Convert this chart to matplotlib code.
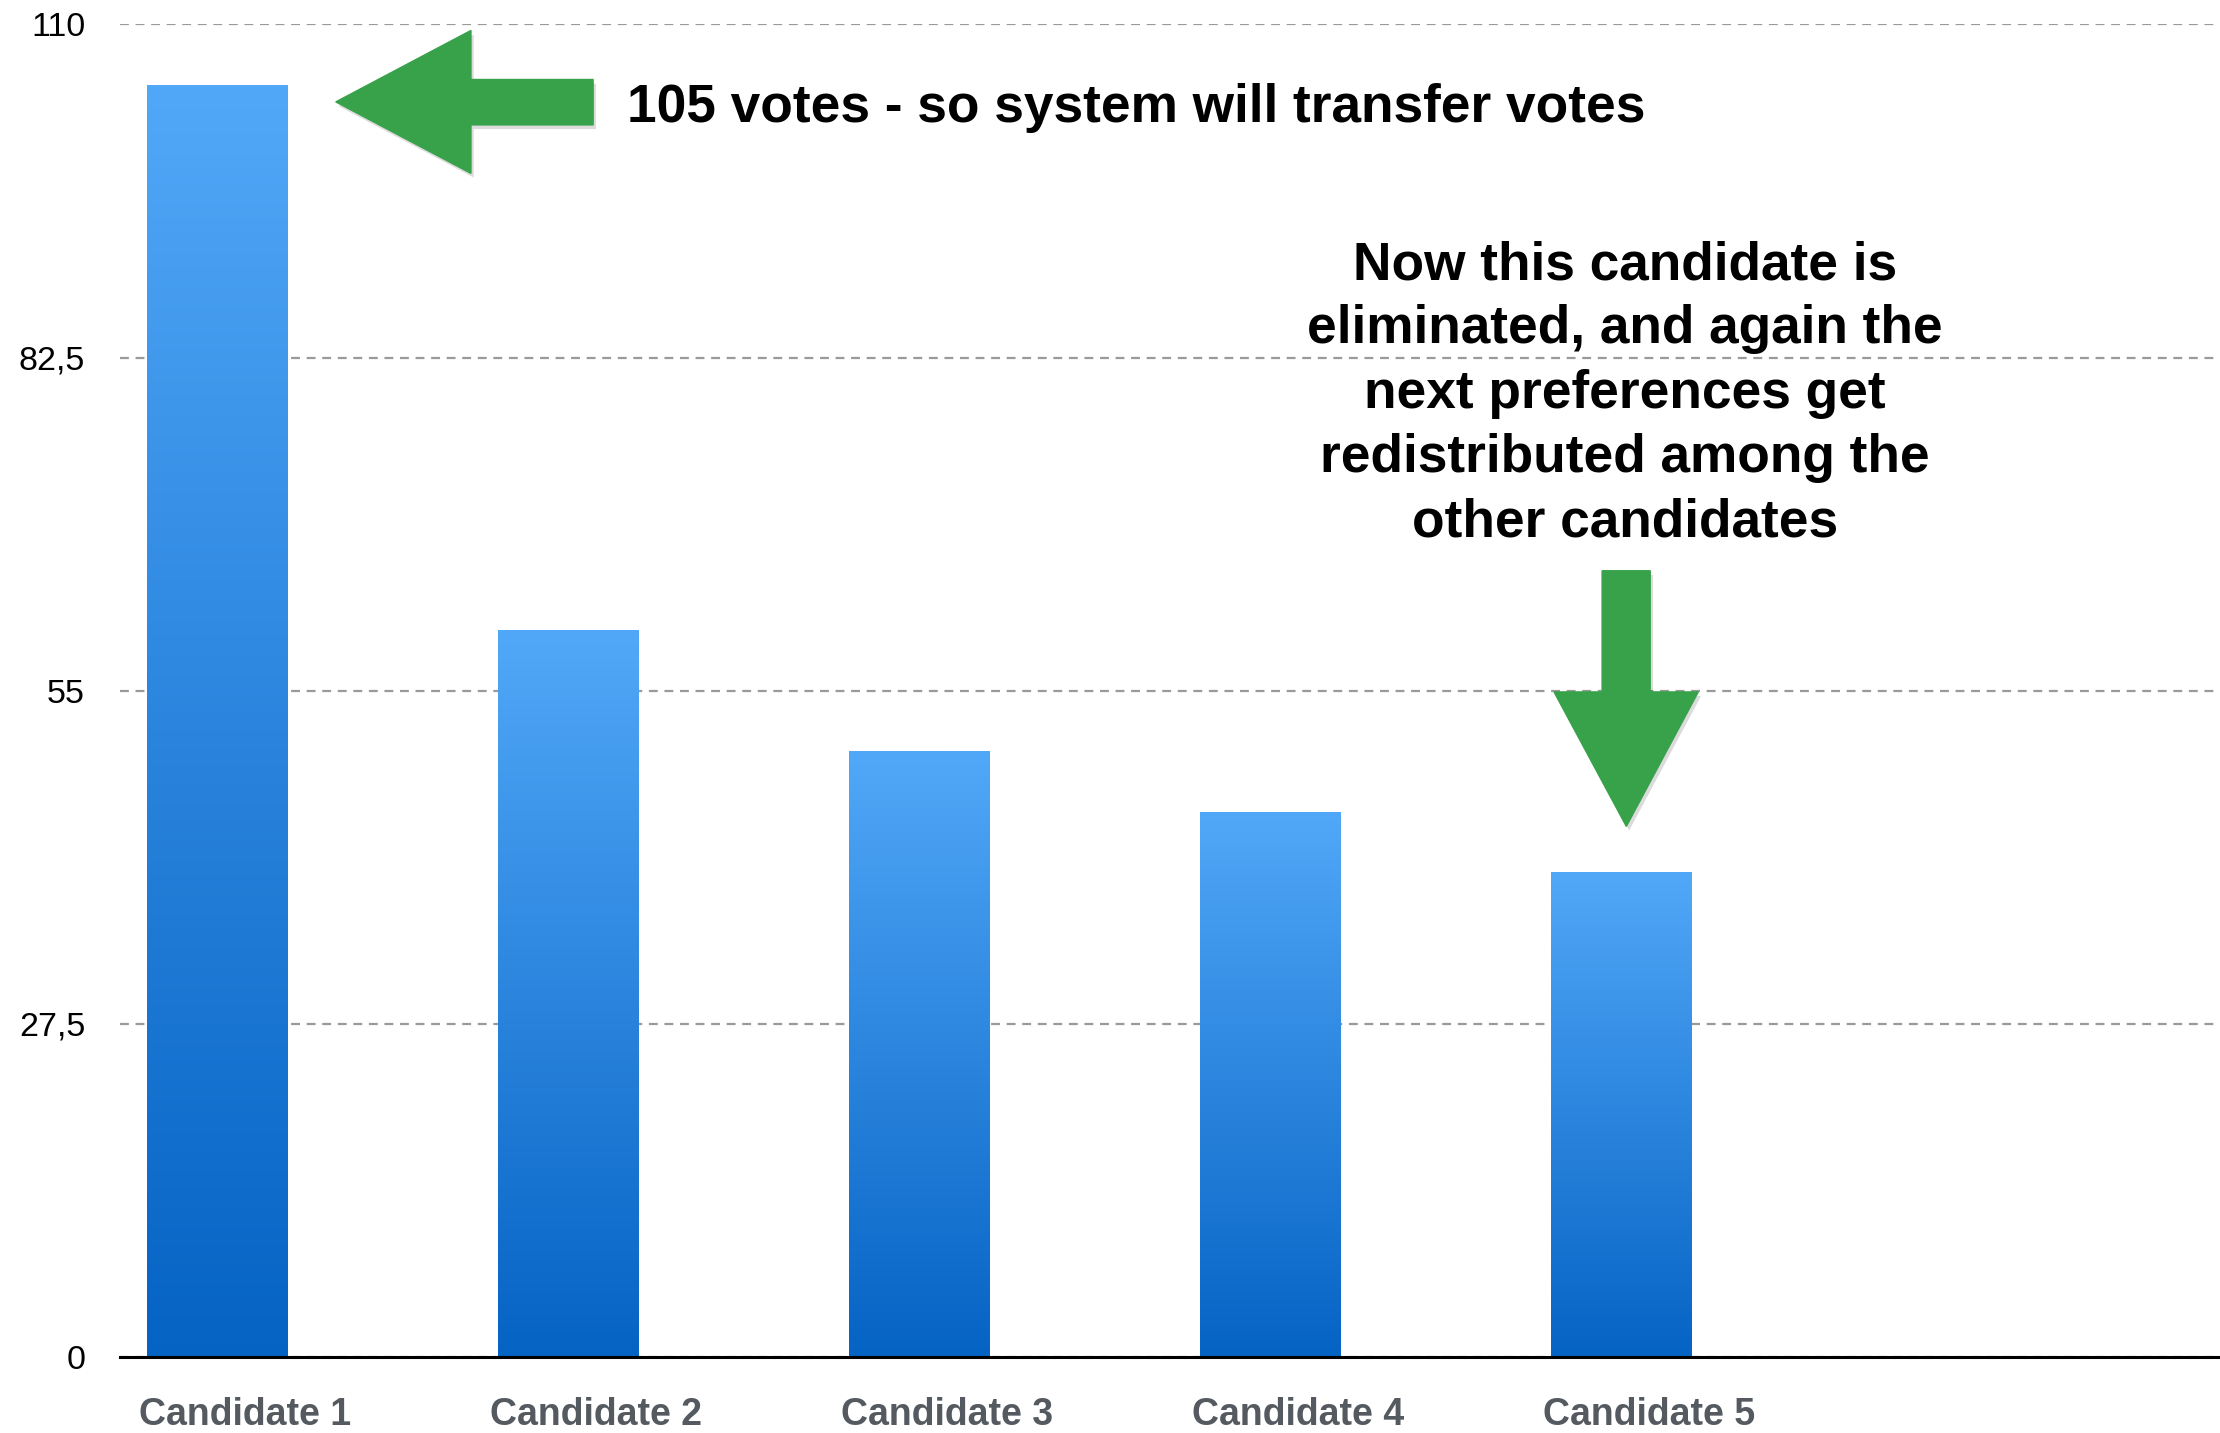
import numpy as np
import matplotlib
matplotlib.use("Agg")
import matplotlib.pyplot as plt
import matplotlib.patheffects as pe
from matplotlib.colors import LinearSegmentedColormap
from matplotlib.patches import Polygon

plt.rcParams['font.family'] = ['Liberation Sans', 'DejaVu Sans']

# data
candidates = ['Candidate 1', 'Candidate 2', 'Candidate 3', 'Candidate 4', 'Candidate 5']
votes = [105, 60, 50, 45, 40]
y_ticks = [0, 27.5, 55, 82.5, 110]
y_tick_labels = ['0', '27,5', '55', '82,5', '110']
note_top = '105 votes - so system will transfer votes'
note_right = ('Now this candidate is\neliminated, and again the\nnext preferences get\n'
              'redistributed among the\nother candidates')

green = '#37a24a'
grad = LinearSegmentedColormap.from_list('bar', ['#0563c4', '#52a8f8'])

fig = plt.figure(figsize=(22.2, 14.33), dpi=100)
ax = fig.add_axes([0.054, 0.053, 0.946, 0.930])

x = np.arange(len(candidates))
width = 0.40
bars = ax.bar(x, votes, width, color='none', edgecolor='none', zorder=2)

# vertical gradient for every bar
g = np.linspace(0, 1, 256).reshape(-1, 1)
for b in bars:
    x0, y0 = b.get_x(), b.get_y()
    im = ax.imshow(g, cmap=grad, aspect='auto', origin='lower',
                   extent=[x0, x0 + b.get_width(), y0, y0 + b.get_height()], zorder=2)
    im.set_clip_path(b)

ax.set_xlim(-0.276, 5.706)
ax.set_ylim(0, 110)
ax.set_yticks(y_ticks)
ax.set_yticklabels(y_tick_labels, fontsize=24.5, color='black')
ax.set_xticks(x + 0.08)
ax.set_xticklabels(candidates, fontsize=27, fontweight='bold', color='#545a60')
ax.tick_params(axis='y', length=0, pad=25)
ax.tick_params(axis='x', length=0, pad=29)

ax.yaxis.grid(True, linestyle=(0, (4, 3)), color='#9a9a9a', linewidth=1.6, zorder=0)
ax.set_axisbelow(True)
for s in ['left', 'right', 'top']:
    ax.spines[s].set_visible(False)
ax.spines['bottom'].set_linewidth(2.2)
ax.spines['bottom'].set_color('black')
ax.spines['bottom'].set_zorder(3)

shadow = [pe.SimplePatchShadow(offset=(2, -3), shadow_rgbFace='black', alpha=0.14), pe.Normal()]

# left arrow pointing at candidate 1
top = votes[0]
left_arrow = Polygon([(0.339, top - 1.4), (0.724, top + 4.5), (0.724, top + 0.45),
                      (1.072, top + 0.45), (1.072, top - 3.3), (0.724, top - 3.3),
                      (0.724, top - 7.3)], closed=True, color=green, zorder=4)
left_arrow.set_path_effects(shadow)
ax.add_patch(left_arrow)

# down arrow pointing at candidate 5
c5 = x[4]
down_arrow = Polygon([(c5 - 0.054, 64.9), (c5 + 0.083, 64.9), (c5 + 0.083, 54.9),
                      (c5 + 0.220, 54.9), (c5 + 0.015, 43.8), (c5 - 0.191, 54.9),
                      (c5 - 0.054, 54.9)], closed=True, color=green, zorder=4)
down_arrow.set_path_effects(shadow)
ax.add_patch(down_arrow)

ax.text(1.168, 103.1, note_top, fontsize=38.3, fontweight='bold', ha='left', va='center', zorder=5)
ax.text(c5 + 0.012, 79.5, note_right, fontsize=38.3, fontweight='bold', ha='center', va='center',
        linespacing=1.37, zorder=5)

fig.savefig('out.png', dpi=100)
